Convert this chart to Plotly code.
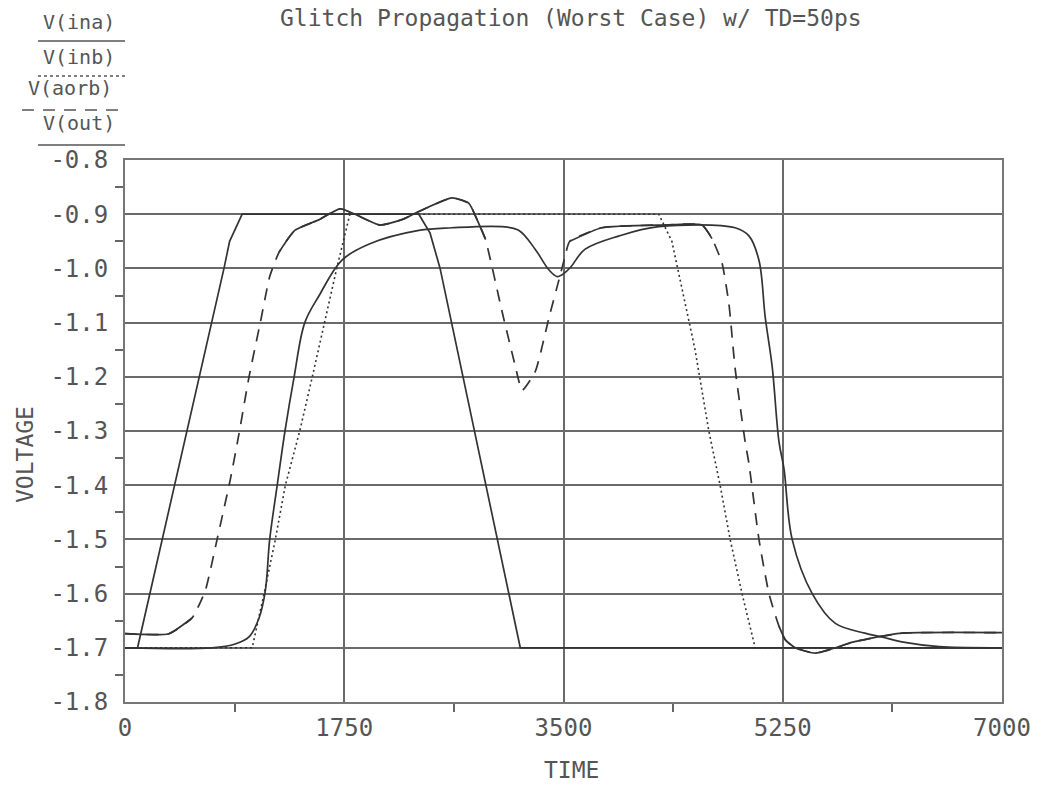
import plotly.graph_objects as go

# ---------------- data ----------------
x_ticks = [0, 1750, 3500, 5250, 7000]
x_tick_labels = ["0", "1750", "3500", "5250", "7000"]
y_ticks = [-0.8, -0.9, -1.0, -1.1, -1.2, -1.3, -1.4, -1.5, -1.6, -1.7, -1.8]
y_tick_labels = ["-0.8", "-0.9", "-1.0", "-1.1", "-1.2", "-1.3", "-1.4", "-1.5", "-1.6", "-1.7", "-1.8"]

t_ina = [0, 100, 790, 835, 935, 2345, 2435, 2515, 3155, 7000]
v_ina = [-1.7, -1.7, -1.0, -0.95, -0.9, -0.9, -0.935, -1.0, -1.7, -1.7]

t_inb = [0, 1015, 1110, 1200, 1280, 1395, 1495, 1590, 1690, 1795, 4260, 4365, 4460, 4550,
         4660, 4750, 4830, 4925, 5030, 7000]
v_inb = [-1.7, -1.7, -1.6, -1.5, -1.4, -1.3, -1.2, -1.1, -1.0, -0.9, -0.9, -0.95, -1.05, -1.15,
         -1.3, -1.4, -1.5, -1.6, -1.7, -1.7]

t_aorb = [0, 350, 535, 640, 735, 840, 910, 990, 1080, 1155, 1230, 1355, 1550, 1715, 1835,
          2035, 2210, 2345, 2610, 2745, 2810, 2875, 3010, 3115, 3170, 3275, 3385, 3465, 3510,
          3550, 3805, 4285, 4605, 4685, 4765, 4820, 4870, 4950, 4980, 5060, 5140, 5220, 5270,
          5350, 5510, 5670, 5800, 5940, 6200, 7000]
v_aorb = [-1.674, -1.674, -1.645, -1.595, -1.5, -1.39, -1.305, -1.2, -1.1, -1.015, -0.97, -0.93,
          -0.91, -0.89, -0.9, -0.92, -0.91, -0.895, -0.87, -0.88, -0.91, -0.945, -1.08, -1.18,
          -1.225, -1.19, -1.09, -1.02, -0.98, -0.95, -0.925, -0.92, -0.92, -0.945, -0.99, -1.065,
          -1.185, -1.32, -1.36, -1.5, -1.6, -1.66, -1.685, -1.70, -1.71, -1.70, -1.69, -1.683,
          -1.673, -1.672]

t_out = [0, 695, 880, 990, 1070, 1120, 1155, 1215, 1277, 1350, 1435, 1550, 1730, 1950, 2345,
         2610, 3010, 3145, 3275, 3385, 3450, 3510, 3560, 3670, 3945, 4260, 4870, 4980, 5060,
         5110, 5165, 5220, 5260, 5325, 5485, 5670, 5905, 6040, 6225, 6500, 7000]
v_out = [-1.7, -1.7, -1.693, -1.68, -1.645, -1.595, -1.5, -1.4, -1.3, -1.2, -1.1, -1.05,
         -0.985, -0.955, -0.93, -0.925, -0.923, -0.93, -0.965, -1.003, -1.015, -1.008, -0.997,
         -0.965, -0.94, -0.923, -0.925, -0.94, -0.985, -1.09, -1.18, -1.32, -1.37, -1.5, -1.6,
         -1.655, -1.673, -1.68, -1.69, -1.698, -1.7]

legend_labels = ["V(ina)", "V(inb)", "V(aorb)", "V(out)"]
title_text = "Glitch Propagation (Worst Case) w/ TD=50ps"

# ---------------- layout geometry ----------------
W, H = 1052, 786
L, R, T, B = 125, 1002, 160, 702
LINE = "#333333"
GRID = "#6a6a6a"
TXT = "#555555"
FONT = "DejaVu Sans Mono"


def px(xp):
    return (xp - L) / (R - L)


def py(yp):
    return (B - yp) / (B - T)


fig = go.Figure()

fig.add_trace(go.Scatter(x=t_ina, y=v_ina, mode="lines", name=legend_labels[0],
                         line=dict(color=LINE, width=1.7)))
fig.add_trace(go.Scatter(x=t_inb, y=v_inb, mode="lines", name=legend_labels[1],
                         line=dict(color=LINE, width=1.6, dash="2px,3px")))
fig.add_trace(go.Scatter(x=t_aorb, y=v_aorb, mode="lines", name=legend_labels[2],
                         line=dict(color=LINE, width=1.7, dash="12px,9px", shape="spline",
                                   smoothing=0.5)))
# slow-changing stretches of V(aorb) are drawn continuous by the plotter
v_aorb_flat = [v if (v >= -0.97 or v <= -1.64) else None for v in v_aorb]
fig.add_trace(go.Scatter(x=t_aorb, y=v_aorb_flat, mode="lines", showlegend=False,
                         connectgaps=False,
                         line=dict(color=LINE, width=1.7, shape="spline", smoothing=0.5)))
fig.add_trace(go.Scatter(x=t_out, y=v_out, mode="lines", name=legend_labels[3],
                         line=dict(color=LINE, width=1.7, shape="spline", smoothing=1.0)))

# ---------------- legend drawn as stacked labels with line samples ----------------
leg_y_text = [22, 57, 88, 123]
leg_x_text = [79, 79, 70, 79]
leg_y_line = [41, 76, 110, 145]
leg_x0 = [38, 38, 22, 38]
leg_dash = ["solid", "3px,3px", "12px,9px", "solid"]
annotations = []
shapes = []
for lab, xt, yt, yl, x0, d in zip(legend_labels, leg_x_text, leg_y_text, leg_y_line, leg_x0, leg_dash):
    annotations.append(dict(text=lab, x=px(xt), y=py(yt), xref="paper", yref="paper",
                            showarrow=False, xanchor="center", yanchor="middle",
                            font=dict(family=FONT, size=20, color=TXT)))
    shapes.append(dict(type="line", xref="paper", yref="paper", x0=px(x0), x1=px(125),
                       y0=py(yl), y1=py(yl), line=dict(color="#555555", width=1.6, dash=d)))

annotations.append(dict(text=title_text, x=px(571), y=py(18), xref="paper", yref="paper",
                        showarrow=False, xanchor="center", yanchor="middle",
                        font=dict(family=FONT, size=23, color=TXT)))
annotations.append(dict(text="TIME", x=px(571), y=py(770), xref="paper", yref="paper",
                        showarrow=False, xanchor="center", yanchor="middle",
                        font=dict(family=FONT, size=23, color=TXT)))
annotations.append(dict(text="VOLTAGE", x=px(25), y=py(455), xref="paper", yref="paper",
                        showarrow=False, xanchor="center", yanchor="middle", textangle=-90,
                        font=dict(family=FONT, size=23, color=TXT)))

fig.update_layout(
    width=W, height=H,
    margin=dict(l=L, r=W - R, t=T, b=H - B),
    paper_bgcolor="white", plot_bgcolor="white",
    showlegend=False,
    annotations=annotations,
    shapes=shapes,
    xaxis=dict(range=[0, 7000], tickmode="array", tickvals=x_ticks, ticktext=x_tick_labels,
               showgrid=True, gridcolor=GRID, gridwidth=1.5, zeroline=False,
               showline=True, mirror=True, linecolor="#777777", linewidth=2,
               ticks="", ticklabelstandoff=3,
               tickfont=dict(family=FONT, size=24, color=TXT),
               minor=dict(tickmode="array", tickvals=[875, 2625, 4375, 6125], ticks="outside",
                          ticklen=8, tickwidth=1.5, tickcolor="#666666", showgrid=False)),
    yaxis=dict(range=[-1.8, -0.8], tickmode="array", tickvals=y_ticks, ticktext=y_tick_labels,
               showgrid=True, gridcolor=GRID, gridwidth=1.5, zeroline=False,
               showline=True, mirror=True, linecolor="#777777", linewidth=2,
               ticks="", ticklabelstandoff=10,
               tickfont=dict(family=FONT, size=24, color=TXT),
               minor=dict(tickmode="array",
                          tickvals=[-0.85, -0.95, -1.05, -1.15, -1.25, -1.35, -1.45, -1.55, -1.65, -1.75],
                          ticks="outside", ticklen=8, tickwidth=1.5, tickcolor="#666666",
                          showgrid=False)),
)

fig.write_html("out.html")
